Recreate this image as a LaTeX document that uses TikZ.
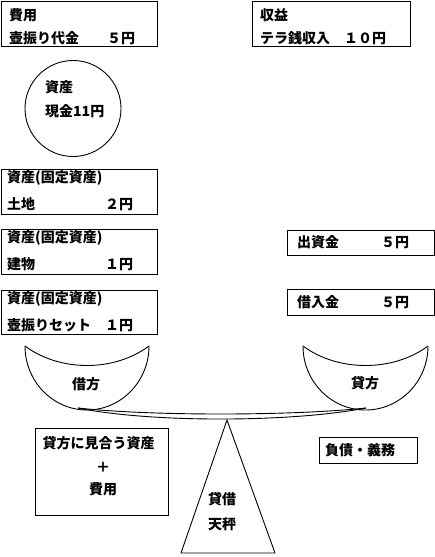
\documentclass[tikz,border=0pt]{standalone}
\usepackage{fontspec}
\setmainfont{Noto Sans CJK JP}
\begin{document}
\begin{tikzpicture}[x=1pt,y=-1pt,
  box/.style={draw, line width=1pt, inner sep=0pt},
  txt/.style={inner sep=0pt, font=\fontsize{14}{16}\selectfont\bfseries},
  outline/.style={line width=0.9pt}]
\useasboundingbox (0,0) rectangle (435,557);
% boxes
\node[box, minimum width=156pt, minimum height=45pt] (hiyouBox) at (79,23.5) {};
\node[box, minimum width=158pt, minimum height=45pt] (shuekiBox) at (331,23.5) {};
\node[box, minimum width=156pt, minimum height=45pt] (tochiBox) at (79,191.5) {};
\node[box, minimum width=156pt, minimum height=45pt] (tatemonoBox) at (79,251.5) {};
\node[box, minimum width=156pt, minimum height=44pt] (setBox) at (79,312) {};
\node[box, minimum width=147pt, minimum height=25pt] (shusshiBox) at (360.5,242.5) {};
\node[box, minimum width=147pt, minimum height=26pt] (kariireBox) at (360.5,302) {};
\node[box, minimum width=133pt, minimum height=87pt] (miauBox) at (101.5,471.5) {};
\node[box, minimum width=98pt, minimum height=26pt] (fusaiBox) at (368,450) {};
\node[draw, outline, circle, minimum size=96pt, inner sep=0pt] (genkinCircle) at (73,108.5) {};
% texts
\node[txt, anchor=west] (t1a) at (9,15) {費用};
\node[txt, anchor=west] (t1b) at (9,38) {壺振り代金　　５円};
\node[txt, anchor=west] (t2a) at (260,15) {収益};
\node[txt, anchor=west] (t2b) at (260,38) {テラ銭収入　１０円};
\node[txt, anchor=west] (t3a) at (45,87) {資産};
\node[txt, anchor=west] (t3b) at (45,111) {現金11円};
\node[txt, anchor=west] (t4a) at (7,178) {資産(固定資産)};
\node[txt, anchor=west] (t4b) at (7,204.5) {土地　　　　　２円};
\node[txt, anchor=west] (t5a) at (7,238) {資産(固定資産)};
\node[txt, anchor=west] (t5b) at (7,264.5) {建物　　　　　１円};
\node[txt, anchor=west] (t6a) at (7,299) {資産(固定資産)};
\node[txt, anchor=west] (t6b) at (7,325) {壺振りセット　１円};
\node[txt, anchor=west] (t7) at (297,242.5) {出資金　　　５円};
\node[txt, anchor=west] (t8) at (297,302) {借入金　　　５円};
\node[txt] (t9a) at (98.5,443) {貸方に見合う資産};
\node[txt] (t9b) at (103,467) {＋};
\node[txt] (t9c) at (103,489) {費用};
\node[txt, anchor=west] (t10) at (325,450) {負債・義務};
\node[txt] (t11a) at (222,499) {貸借};
\node[txt] (t11b) at (222,524) {天秤};
% bowls
\coordinate (lbTL) at (25,346);
\coordinate (lbTR) at (149,346);
\coordinate (lbB) at (87,410);
\draw[outline] (lbTL) .. controls (60,372) and (114,372) .. (lbTR);
\draw[outline] (lbTL) .. controls (25,381.3) and (52.8,410) .. (lbB)
  .. controls (121.2,410) and (149,381.3) .. (lbTR);
\coordinate (rbTL) at (303,346);
\coordinate (rbTR) at (428,346);
\coordinate (rbB) at (365.5,410);
\draw[outline] (rbTL) .. controls (338,372) and (393,372) .. (rbTR);
\draw[outline] (rbTL) .. controls (303,381.3) and (331,410) .. (rbB)
  .. controls (400,410) and (428,381.3) .. (rbTR);
\node[txt] (kari) at (86,384) {借方};
\node[txt] (kashi) at (365,383) {貸方};
% beam
\coordinate (beamL) at (78,408);
\coordinate (beamR) at (366,408);
\draw[outline] (beamL) .. controls (150,416) and (290,416) .. (beamR);
\draw[outline] (beamL) .. controls (150,422.7) and (290,422.7) .. (beamR);
% fulcrum
\coordinate (apex) at (227,420);
\coordinate (baseL) at (181,553);
\coordinate (baseR) at (275,553);
\draw[outline] (apex) -- (baseL) -- (baseR) -- cycle;
\end{tikzpicture}
\end{document}
